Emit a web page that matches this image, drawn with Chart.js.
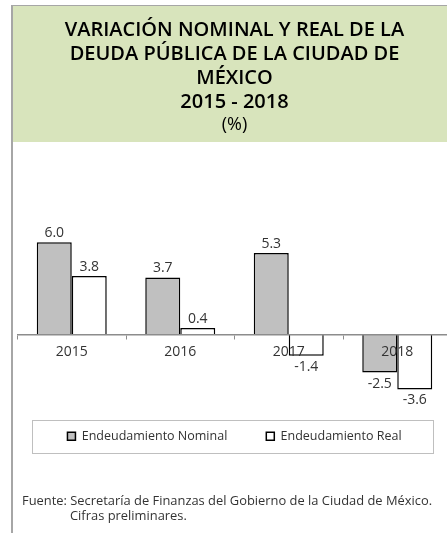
<!DOCTYPE html>
<html>
<head>
<meta charset="utf-8">
<script src="https://cdn.jsdelivr.net/npm/chart.js@4/dist/chart.umd.min.js"></script>
<style>
  html, body { margin: 0; padding: 0; background: #fff; overflow: hidden; width: 447px; height: 533px; }
  .frame { position: absolute; left: 11px; top: 5px; width: 500px; height: 600px;
           border-left: 2px solid #a6a6a6; border-top: 1px solid #a6a6a6; }
  #chart { position: absolute; left: 0; top: 0; }
  .note { position: absolute; left: 22px; top: 493px; font: 12.9px "Open Sans", sans-serif; color: #333; line-height: 15px; }
  .note div + div { padding-left: 48px; }
</style>
</head>
<body>
<div class="frame">
  <canvas id="chart" width="440" height="527"></canvas>
</div>
<div class="note">
  <div>Fuente: Secretaría de Finanzas del Gobierno de la Ciudad de México.</div>
  <div>Cifras preliminares.</div>
</div>
<script>
const years = ['2015', '2016', '2017', '2018']
const nominal = [6.0, 3.7, 5.3, -2.5]
const real = [3.8, 0.4, -1.4, -3.6]

// fondo verde detrás del título
const titleBg = {
  id: 'titleBg',
  beforeDraw(chart) {
    const ctx = chart.ctx
    ctx.save()
    ctx.fillStyle = '#d8e4bc'
    ctx.fillRect(0, 0, chart.width, 136)
    ctx.restore()
  }
}

// etiquetas de valores sobre / bajo las barras
const valueLabels = {
  id: 'valueLabels',
  afterDatasetsDraw(chart) {
    const ctx = chart.ctx
    ctx.save()
    ctx.font = '14px "Open Sans", sans-serif'
    ctx.fillStyle = '#333'
    ctx.textAlign = 'center'
    chart.data.datasets.forEach((ds, i) => {
      chart.getDatasetMeta(i).data.forEach((bar, j) => {
        const v = ds.data[j]
        if (v >= 0) {
          ctx.textBaseline = 'bottom'
          ctx.fillText(v.toFixed(1), bar.x, bar.y - 2)
        } else {
          ctx.textBaseline = 'top'
          ctx.fillText(v.toFixed(1), bar.x, bar.y + 4)
        }
      })
    })
    ctx.restore()
  }
}

// recuadro de la leyenda
const legendBox = {
  id: 'legendBox',
  afterDraw(chart) {
    const lg = chart.legend
    const ctx = chart.ctx
    const cy = lg.legendHitBoxes[0].top + lg.legendHitBoxes[0].height / 2
    ctx.save()
    ctx.strokeStyle = '#bfbfbf'
    ctx.lineWidth = 1
    ctx.strokeRect(19.5, Math.round(cy - 16.5) + 0.5, 401, 33)
    ctx.restore()
  }
}

new Chart(document.getElementById('chart'), {
  type: 'bar',
  data: {
    labels: years,
    datasets: [{
      label: 'Endeudamiento Nominal',
      data: nominal,
      backgroundColor: '#c0c0c0',
      borderColor: '#000',
      borderWidth: 1.5
    }, {
      label: 'Endeudamiento Real',
      data: real,
      backgroundColor: '#fff',
      borderColor: '#000',
      borderWidth: 1.5
    }]
  },
  options: {
    responsive: false,
    animation: false,
    categoryPercentage: 0.645,
    barPercentage: 1,
    layout: { padding: { left: 4.5, right: 1.5, top: 0, bottom: 80.5 } },
    scales: {
      x: {
        position: { y: 0 },
        border: { color: '#8c8c8c', width: 1.5, z: 1 },
        grid: { offset: true, drawOnChartArea: false, drawTicks: true, tickLength: 4, color: '#8c8c8c', lineWidth: 1, z: 1 },
        ticks: { color: '#333', padding: 5, z: 1, font: { family: 'Open Sans', size: 14 } }
      },
      y: {
        display: false,
        min: -3.7,
        max: 12
      }
    },
    plugins: {
      title: {
        display: true,
        text: ['VARIACIÓN NOMINAL Y REAL DE LA', 'DEUDA PÚBLICA DE LA CIUDAD DE', 'MÉXICO', '2015 - 2018'],
        color: '#000',
        font: { family: 'Open Sans', size: 20, weight: 600, lineHeight: 24 / 20 },
        padding: { top: 12, bottom: 0 }
      },
      subtitle: {
        display: true,
        text: '(%)',
        color: '#000',
        font: { family: 'Open Sans', size: 18, lineHeight: 1.2 },
        padding: { top: 0, bottom: 14.6 }
      },
      legend: {
        position: 'bottom',
        labels: {
          boxWidth: 8,
          boxHeight: 8,
          padding: 39,
          color: '#333',
          font: { family: 'Open Sans', size: 12.5 }
        }
      },
      tooltip: { enabled: false }
    }
  },
  plugins: [titleBg, valueLabels, legendBox]
})
</script>
</body>
</html>
